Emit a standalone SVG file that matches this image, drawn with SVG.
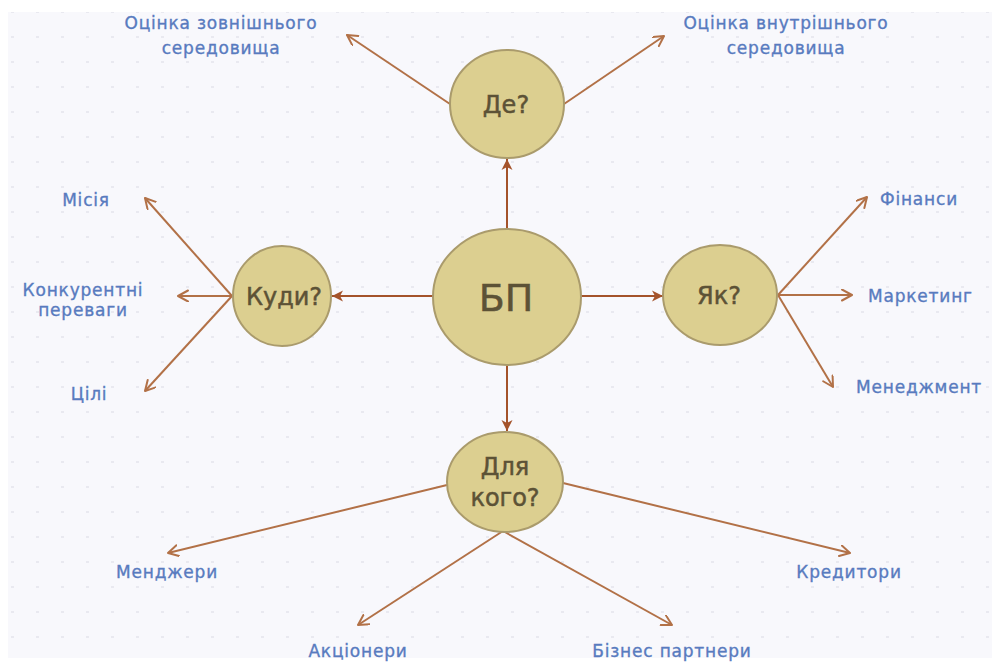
<svg xmlns="http://www.w3.org/2000/svg" width="992" height="663" viewBox="0 0 992 663">
  <defs>
    <pattern id="dots" x="0" y="0" width="25" height="25" patternUnits="userSpaceOnUse">
      <rect x="11" y="11" width="3" height="2" fill="#e9e9f0"/>
    </pattern>
    <marker id="open" markerWidth="14" markerHeight="14" refX="11" refY="6" orient="auto" markerUnits="userSpaceOnUse">
      <path d="M1,0.5 L11,6 L1,11.5" fill="none" stroke="#b27147" stroke-width="2" stroke-linecap="round" stroke-linejoin="round"/>
    </marker>
    <marker id="solid" markerWidth="14" markerHeight="14" refX="11" refY="6" orient="auto" markerUnits="userSpaceOnUse">
      <path d="M0,0.5 L11,6 L0,11.5 L3,6 Z" fill="#a4532b"/>
    </marker>
    <style>
      .node ellipse { fill: #dccf90; stroke: #aa9b6c; stroke-width: 2; }
      .node text { font-family: "DejaVu Sans", "Noto Sans", sans-serif; fill: #5c5236; stroke: #5c5236; stroke-width: 0.5px; text-anchor: middle; font-size: 24px; }
      .outer { stroke: #b27147; stroke-width: 2; fill: none; marker-end: url(#open); }
      .inner { stroke: #a4532b; stroke-width: 2; fill: none; marker-end: url(#solid); }
      .lbl { font-family: "DejaVu Sans", "Noto Sans", sans-serif; font-size: 17px; fill: #587bbf; stroke: #587bbf; stroke-width: 0.35px; letter-spacing: 0.8px; }
    </style>
  </defs>

  <rect width="992" height="663" fill="#ffffff"/>
  <rect x="8" y="12" width="984" height="646" fill="#f8f8fc"/>
  <rect x="8" y="12" width="984" height="646" fill="url(#dots)"/>

  <g id="connectors">
    <line class="inner" x1="507" y1="229" x2="507" y2="159"/>
    <line class="inner" x1="433" y1="296" x2="332" y2="296"/>
    <line class="inner" x1="581" y1="296" x2="663" y2="296"/>
    <line class="inner" x1="507" y1="365" x2="507" y2="431"/>

    <line class="outer" x1="450" y1="104" x2="347" y2="35"/>
    <line class="outer" x1="564" y1="104" x2="664" y2="36"/>
    <line class="outer" x1="232" y1="296" x2="145" y2="198"/>
    <line class="outer" x1="232" y1="296" x2="178" y2="296"/>
    <line class="outer" x1="232" y1="296" x2="145" y2="391"/>
    <line class="outer" x1="778" y1="295" x2="867" y2="197"/>
    <line class="outer" x1="778" y1="295" x2="852" y2="295"/>
    <line class="outer" x1="778" y1="295" x2="833" y2="387"/>
    <line class="outer" x1="447" y1="485" x2="168" y2="553"/>
    <line class="outer" x1="503" y1="531" x2="358" y2="625"/>
    <line class="outer" x1="503" y1="531" x2="672" y2="625"/>
    <line class="outer" x1="563" y1="483" x2="850" y2="553"/>
  </g>

  <g id="node-bp" class="node">
    <ellipse cx="507" cy="297" rx="74" ry="68"/>
    <text x="506" y="311" style="font-size:38px">БП</text>
  </g>
  <g id="node-de" class="node">
    <ellipse cx="507" cy="104" rx="57" ry="54"/>
    <text x="506" y="113">Де?</text>
  </g>
  <g id="node-kudy" class="node">
    <ellipse cx="282" cy="296" rx="49" ry="50"/>
    <text x="284" y="305">Куди?</text>
  </g>
  <g id="node-yak" class="node">
    <ellipse cx="720" cy="295" rx="57" ry="50"/>
    <text x="719" y="304">Як?</text>
  </g>
  <g id="node-dlia-koho" class="node">
    <ellipse cx="505" cy="482" rx="58" ry="50"/>
    <text x="505" y="475">Для</text>
    <text x="505" y="506">кого?</text>
  </g>

  <g id="labels">
    <text class="lbl" x="221" y="29" text-anchor="middle">Оцінка зовнішнього</text>
    <text class="lbl" x="221" y="54" text-anchor="middle">середовища</text>
    <text class="lbl" x="786" y="29" text-anchor="middle">Оцінка внутрішнього</text>
    <text class="lbl" x="786" y="54" text-anchor="middle">середовища</text>
    <text class="lbl" x="86" y="206" text-anchor="middle">Місія</text>
    <text class="lbl" x="83" y="296" text-anchor="middle">Конкурентні</text>
    <text class="lbl" x="83" y="316" text-anchor="middle">переваги</text>
    <text class="lbl" x="89" y="400" text-anchor="middle">Цілі</text>
    <text class="lbl" x="880" y="205">Фінанси</text>
    <text class="lbl" x="868" y="302">Маркетинг</text>
    <text class="lbl" x="856" y="393">Менеджмент</text>
    <text class="lbl" x="167" y="578" text-anchor="middle">Менджери</text>
    <text class="lbl" x="358" y="657" text-anchor="middle">Акціонери</text>
    <text class="lbl" x="672" y="657" text-anchor="middle">Бізнес партнери</text>
    <text class="lbl" x="849" y="578" text-anchor="middle">Кредитори</text>
  </g>
</svg>
